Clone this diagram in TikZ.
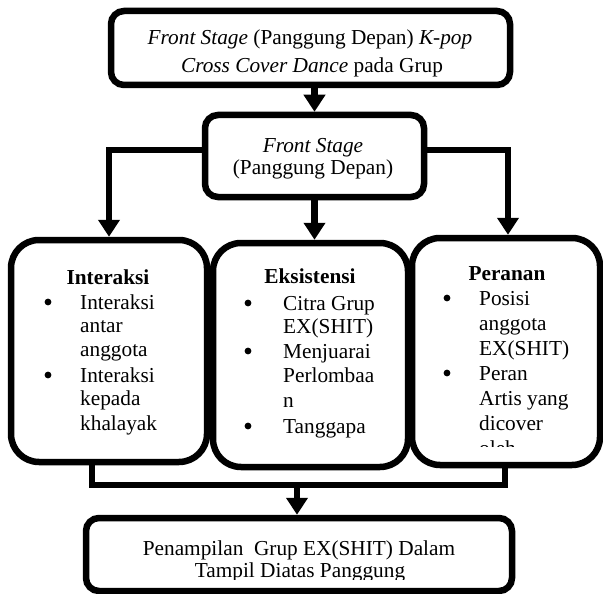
\documentclass[tikz,border=0pt]{standalone}
\usepackage{fontspec}
\setmainfont{Liberation Serif}
\usetikzlibrary{arrows.meta}
\begin{document}
\begin{tikzpicture}[x=1pt,y=-1pt,
  every node/.style={font=\fontsize{21.3}{24.5}\selectfont},
  smallbox/.style={draw, line width=6.5pt, rounded corners=13pt, fill=white, inner sep=0pt, minimum width=#1},
  bigbox/.style={draw, line width=6.5pt, rounded corners=28pt, fill=white, inner sep=0pt},
  conn/.style={line width=6.5pt, -{Triangle[width=21pt,length=17pt]}},
  plain/.style={line width=6.5pt, line join=miter},
  txt/.style={anchor=base, inner sep=0pt},
  txtl/.style={anchor=base west, inner sep=0pt},
  hd/.style={anchor=base, inner sep=0pt, font=\fontsize{21.3}{24.5}\selectfont\bfseries},
  bul/.style={circle, fill=black, inner sep=0pt, minimum size=6.8pt}
]
\useasboundingbox (0,0) rectangle (603,594);

% boxes
\node[smallbox=399pt, minimum height=74pt] (top) at (310.5,48) {};
\node[smallbox=219pt, minimum height=82pt] (mid) at (314.5,156) {};
\node[bigbox, minimum width=196pt, minimum height=222pt] (lbox) at (109,351) {};
\node[bigbox, minimum width=195pt, minimum height=224pt] (cbox) at (310.5,355) {};
\node[bigbox, minimum width=188pt, minimum height=227pt] (rbox) at (506,351.5) {};
\node[smallbox=426pt, minimum height=73pt] (bbox) at (299,554.5) {};

% connectors
\draw[conn] (top.south -| mid.north) -- (mid.north);
\draw[conn] ([yshift=6pt]mid.west) -| (lbox.north);
\draw[conn] ([yshift=6pt]mid.east) -| ([xshift=2pt]rbox.north);
\draw[conn] (mid.south) -- (mid.south |- cbox.north);
\coordinate (j) at (297,485);
\draw[plain] ([xshift=-17pt]lbox.south) |- ([xshift=-1pt]rbox.south |- j) -- ([xshift=-1pt]rbox.south);
\draw[conn] (j) -- (j |- bbox.north);

% top box text
\node[txt] (t1) at (310,45) {\textit{Front Stage} (Panggung Depan) \textit{K-pop}};
\begin{scope}
\clip (100,50) rectangle (520,77.5);
\node[txt] (t2) at (312,73) {\textit{Cross Cover Dance} pada Grup};
\end{scope}

% middle box text
\node[txt] (m1) at (313,152) {\textit{Front Stage}};
\node[txt] (m2) at (313,175) {(Panggung Depan)};

% left box
\node[hd] (lh) at (108,284) {Interaksi};
\node[bul] (lb1) at (48,302) {};
\node[txtl] (l1) at (80,309) {Interaksi};
\node[txtl] (l2) at (80,332) {antar};
\node[txtl] (l3) at (80,356) {anggota};
\node[bul] (lb2) at (48,375) {};
\node[txtl] (l4) at (80,382) {Interaksi};
\node[txtl] (l5) at (80,405) {kepada};
\node[txtl] (l6) at (80,430) {khalayak};

% centre box
\node[hd] (ch) at (310,283) {Eksistensi};
\node[bul] (cb1) at (248,303) {};
\node[txtl] (c1) at (283,310) {Citra Grup};
\node[txtl] (c2) at (283,333) {EX(SHIT)};
\node[bul] (cb2) at (248,351) {};
\node[txtl] (c3) at (283,358) {Menjuarai};
\node[txtl] (c4) at (283,382) {Perlombaa};
\node[txtl] (c5) at (283,407) {n};
\node[bul] (cb3) at (248,426) {};
\node[txtl] (c6) at (283,433) {Tanggapa};

% right box
\node[hd] (rh) at (507,280) {Peranan};
\node[bul] (rb1) at (447,298) {};
\node[txtl] (r1) at (479,305) {Posisi};
\node[txtl] (r2) at (479,330) {anggota};
\node[txtl] (r3) at (479,355) {EX(SHIT)};
\node[bul] (rb2) at (447,373) {};
\node[txtl] (r4) at (479,380) {Peran};
\node[txtl] (r5) at (479,405) {Artis yang};
\node[txtl] (r6) at (479,430) {dicover};
\begin{scope}
\clip (420,435) rectangle (590,446);
\node[txtl] (r7) at (479,455) {oleh};
\end{scope}

% bottom box text
\node[txt] (b1) at (299,555) {Penampilan\hspace{0.5em}Grup EX(SHIT) Dalam};
\begin{scope}
\clip (90,560) rectangle (508,579);
\node[txt] (b2) at (300,577) {Tampil Diatas Panggung};
\end{scope}
\end{tikzpicture}
\end{document}
